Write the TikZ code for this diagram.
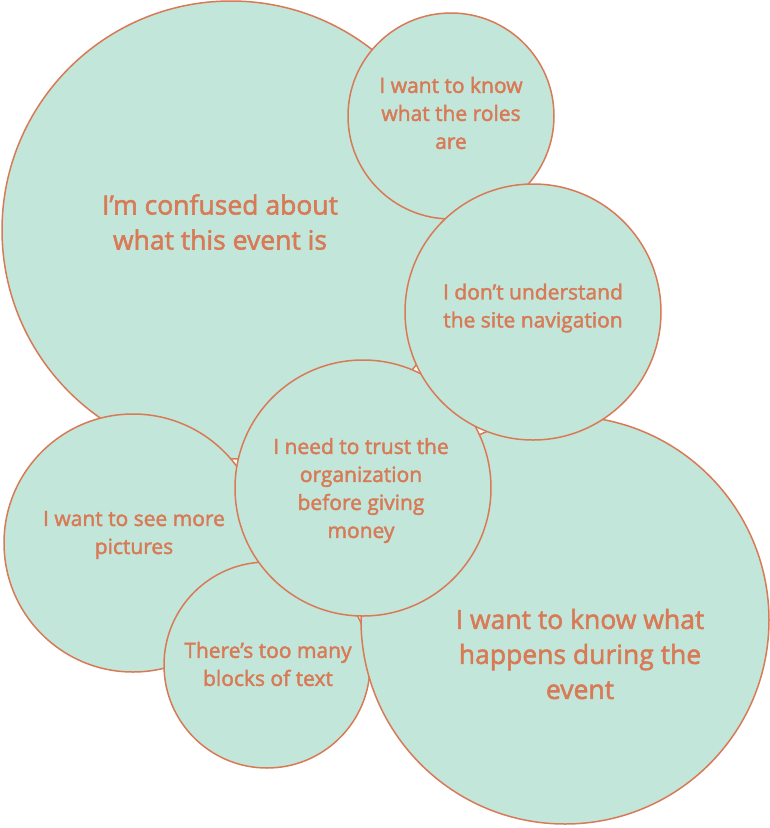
\documentclass[tikz,border=0pt]{standalone}
\usepackage{fontspec}
\setmainfont{Open Sans}[FakeBold=2]
\usepackage{xcolor}
\usepackage{tikz}
\usetikzlibrary{positioning}
\definecolor{mint}{HTML}{C2E6D9}
\definecolor{rust}{HTML}{D97A57}

\begin{document}
\begin{tikzpicture}[x=1pt, y=-1pt,
    bubble/.style={circle, draw=rust, fill=mint, line width=1.5pt, inner sep=0pt},
    say/.style={text=rust, align=center, font=\fontsize{21}{28}\selectfont},
    bigsay/.style={say, font=\fontsize{26.5}{35}\selectfont}]

    \useasboundingbox (0,0) rectangle (770,828);

    % --- Bubbles (back to front) ---
    \node[bubble, minimum size=458pt] (confused) at (231,230) {};
    \node[bubble, minimum size=206pt] (roles)    at (451,116) {};
    \node[bubble, minimum size=258pt] (pictures) at (133,543) {};
    \node[bubble, minimum size=206pt] (blocks)   at (267,665) {};
    \node[bubble, minimum size=408pt] (happens)  at (565,620) {};
    \node[bubble, minimum size=256pt] (trust)    at (363,488) {};
    \node[bubble, minimum size=256pt] (nav)      at (533,312) {};

    % --- Texts ---
    \node[bigsay] (confusedtxt) at (220,222) {I’m confused about\\what this event is};
    \node[say] (rolestxt)    at (451,113) {I want to know\\what the roles\\are};
    \node[say] (navtxt)      at (533,308) {I don’t understand\\the site navigation};
    \node[say] (trusttxt)    at (361,490.5) {I need to trust the\\organization\\before giving\\money};
    \node[say] (picturestxt) at (134,535) {I want to see more\\pictures};
    \node[say] (blockstxt)   at (268,664) {There’s too many\\blocks of text};
    \node[bigsay] (happenstxt) at (580,654) {I want to know what\\happens during the\\event};
\end{tikzpicture}
\end{document}
